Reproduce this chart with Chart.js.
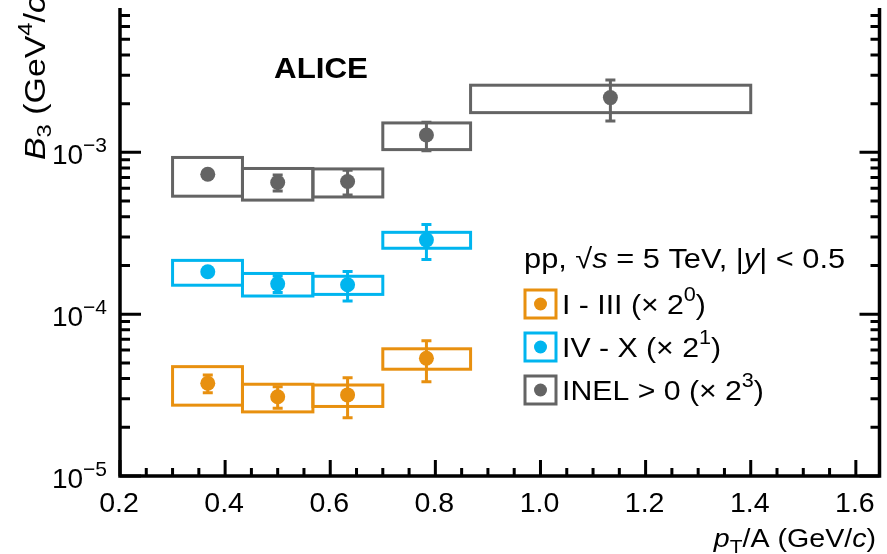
<!DOCTYPE html>
<html lang="en">
<head>
    <meta charset="UTF-8">
    <title>B3 vs pT/A</title>
    <script src="https://cdn.jsdelivr.net/npm/chart.js"></script>
    <style>
        body {
            margin: 0;
            padding: 0;
            background-color: #fff;
        }
        #wrap {
            width: 887px;
            height: 554px;
        }
    </style>
</head>
<body>
    <div id="wrap"><canvas id="b3Chart"></canvas></div>

    <script>
        // pT/A bins (GeV/c)
        const binCenter = [0.367, 0.5, 0.633, 0.783, 1.133];
        const binLow = [0.3, 0.433, 0.567, 0.7, 0.867];
        const binHigh = [0.433, 0.567, 0.7, 0.867, 1.4];

        // I - III (x 2^0)
        const multLow = [3.74e-5, 3.09e-5, 3.17e-5, 5.34e-5];
        const multLowStat = [0.47e-5, 0.47e-5, 0.88e-5, 1.52e-5];
        const multLowSys = [1.0e-5, 0.6e-5, 0.48e-5, 0.77e-5];

        // IV - X (x 2^1)
        const multHigh = [1.83e-4, 1.54e-4, 1.52e-4, 2.88e-4];
        const multHighStat = [0.1e-4, 0.18e-4, 0.315e-4, 0.70e-4];
        const multHighSys = [0.32e-4, 0.245e-4, 0.195e-4, 0.325e-4];

        // INEL > 0 (x 2^3)
        const inel = [7.33e-4, 6.51e-4, 6.60e-4, 1.28e-3, 2.18e-3];
        const inelStat = [0.04e-3, 0.073e-3, 0.114e-3, 0.257e-3, 0.62e-3];
        const inelSys = [0.197e-3, 0.144e-3, 0.13e-3, 0.24e-3, 0.42e-3];

        const xTickLabels = ['0.2', '0.4', '0.6', '0.8', '1.0', '1.2', '1.4', '1.6'];
        const yDecades = [-5, -4, -3];

        const FONT = '"Liberation Sans", Arial, sans-serif';
        const ORANGE = '#e8900f';
        const CYAN = '#00b5ef';
        const GREY = '#646464';

        const series = [
            { name: 'I - III', exp: '0', values: multLow, stat: multLowStat, sys: multLowSys, color: ORANGE },
            { name: 'IV - X', exp: '1', values: multHigh, stat: multHighStat, sys: multHighSys, color: CYAN },
            { name: 'INEL > 0', exp: '3', values: inel, stat: inelStat, sys: inelSys, color: GREY }
        ];

        // draw a row of text pieces (sub/superscripts, italics) with a small horizontal stretch
        function drawRuns(ctx, x, y, parts, align, sx) {
            sx = sx || 1;
            let total = 0;
            parts.forEach(p => {
                ctx.font = p.font;
                p.w = ctx.measureText(p.t).width * sx + (p.gap || 0);
                total += p.w;
            });
            let cx = align === 'right' ? x - total : (align === 'center' ? x - total / 2 : x);
            parts.forEach(p => {
                ctx.save();
                ctx.font = p.font;
                ctx.textAlign = 'left';
                ctx.textBaseline = 'alphabetic';
                ctx.translate(cx, y + (p.dy || 0));
                ctx.scale(sx, 1);
                ctx.fillText(p.t, 0, 0);
                ctx.restore();
                cx += p.w;
            });
        }

        // systematic boxes and statistical error bars
        const errorPlugin = {
            id: 'errors',
            beforeDatasetsDraw(chart) {
                const ctx = chart.ctx;
                const xs = chart.scales.x, ys = chart.scales.y;
                ctx.save();
                ctx.lineWidth = 3;
                series.forEach(s => {
                    ctx.strokeStyle = s.color;
                    s.values.forEach((v, i) => {
                        const x0 = xs.getPixelForValue(binLow[i]);
                        const x1 = xs.getPixelForValue(binHigh[i]);
                        const yTop = ys.getPixelForValue(v + s.sys[i]);
                        const yBot = ys.getPixelForValue(v - s.sys[i]);
                        ctx.strokeRect(x0, yTop, x1 - x0, yBot - yTop);

                        const xc = xs.getPixelForValue(binCenter[i]);
                        const e0 = ys.getPixelForValue(v + s.stat[i]);
                        const e1 = ys.getPixelForValue(v - s.stat[i]);
                        ctx.beginPath();
                        ctx.moveTo(xc, e0);
                        ctx.lineTo(xc, e1);
                        ctx.moveTo(xc - 5, e0);
                        ctx.lineTo(xc + 5, e0);
                        ctx.moveTo(xc - 5, e1);
                        ctx.lineTo(xc + 5, e1);
                        ctx.stroke();
                    });
                });
                ctx.restore();
            }
        };

        // frame, inward ticks, labels, titles and legend
        const framePlugin = {
            id: 'frame',
            afterDraw(chart) {
                const ctx = chart.ctx;
                const area = chart.chartArea;
                const xs = chart.scales.x, ys = chart.scales.y;
                ctx.save();
                ctx.strokeStyle = '#000';
                ctx.fillStyle = '#000';

                ctx.lineWidth = 3.5;
                ctx.beginPath();
                ctx.moveTo(area.left, area.top);
                ctx.lineTo(area.left, area.bottom);
                ctx.lineTo(area.right, area.bottom);
                ctx.lineTo(area.right, area.top);
                ctx.stroke();

                // x ticks every 0.05, labelled every 0.2
                ctx.lineWidth = 3;
                ctx.beginPath();
                for (let i = 0; i <= 28; i++) {
                    const px = xs.getPixelForValue(0.2 + i * 0.05);
                    const len = i % 4 === 0 ? 16 : 8;
                    ctx.moveTo(px, area.bottom);
                    ctx.lineTo(px, area.bottom - len);
                }
                ctx.stroke();
                xTickLabels.forEach(t => {
                    drawRuns(ctx, xs.getPixelForValue(parseFloat(t)) - 1, 512,
                        [{ t: t, font: '28px ' + FONT }], 'center', 1.02);
                });

                // log y ticks, both sides
                ctx.beginPath();
                yDecades.forEach(d => {
                    for (let m = 1; m <= 9; m++) {
                        const v = m * Math.pow(10, d);
                        if (v > ys.max) continue;
                        const py = ys.getPixelForValue(v);
                        const lenL = m === 1 ? 21 : 10;
                        const lenR = m === 1 ? 20 : 9;
                        ctx.moveTo(area.left, py);
                        ctx.lineTo(area.left + lenL, py);
                        ctx.moveTo(area.right, py);
                        ctx.lineTo(area.right - lenR, py);
                    }
                });
                ctx.stroke();
                yDecades.forEach(d => {
                    const py = ys.getPixelForValue(Math.pow(10, d));
                    drawRuns(ctx, 107, py + 12, [
                        { t: '10', font: '28px ' + FONT },
                        { t: '\u2212' + Math.abs(d), font: '21px ' + FONT, dy: -12 }
                    ], 'right');
                });

                // axis titles
                drawRuns(ctx, 876, 547, [
                    { t: 'p', font: 'italic 26px ' + FONT },
                    { t: 'T', font: '19px ' + FONT, dy: 6 },
                    { t: '/A (GeV/', font: '26px ' + FONT },
                    { t: 'c', font: 'italic 26px ' + FONT },
                    { t: ')', font: '26px ' + FONT }
                ], 'right', 1.1);

                ctx.save();
                ctx.translate(45, 160);
                ctx.rotate(-Math.PI / 2);
                drawRuns(ctx, 0, 0, [
                    { t: 'B', font: 'italic 30px ' + FONT },
                    { t: '3', font: '21px ' + FONT, dy: 6 },
                    { t: ' (GeV', font: '30px ' + FONT },
                    { t: '4', font: '21px ' + FONT, dy: -13 },
                    { t: '/', font: '30px ' + FONT },
                    { t: 'c', font: 'italic 30px ' + FONT },
                    { t: '3', font: '21px ' + FONT, dy: -13 },
                    { t: ')', font: '30px ' + FONT }
                ], 'left', 1.13);
                ctx.restore();

                drawRuns(ctx, 321, 78, [{ t: 'ALICE', font: 'bold 29px ' + FONT }], 'center', 1.08);

                // legend
                drawRuns(ctx, 524, 268, [
                    { t: 'pp, ', font: '28px ' + FONT },
                    { t: '\u221A', font: '28px ' + FONT },
                    { t: 's', font: 'italic 28px ' + FONT },
                    { t: ' = 5 TeV, ', font: '28px ' + FONT },
                    { t: '|', font: '28px ' + FONT },
                    { t: 'y', font: 'italic 28px ' + FONT },
                    { t: '| < 0.5', font: '28px ' + FONT }
                ], 'left', 1.1);

                series.forEach((s, k) => {
                    const cy = 304 + k * 43;
                    ctx.lineWidth = 3;
                    ctx.strokeStyle = s.color;
                    ctx.strokeRect(525, cy - 14, 31, 28);
                    ctx.fillStyle = s.color;
                    ctx.beginPath();
                    ctx.arc(540.5, cy, 6.5, 0, Math.PI * 2);
                    ctx.fill();
                    ctx.fillStyle = '#000';
                    drawRuns(ctx, 562, cy + 10, [
                        { t: s.name + ' (\u00D7 2', font: '28px ' + FONT },
                        { t: s.exp, font: '20px ' + FONT, dy: -13 },
                        { t: ')', font: '28px ' + FONT }
                    ], 'left', 1.08);
                });
                ctx.restore();
            }
        };

        const ctxB3 = document.getElementById('b3Chart').getContext('2d');
        const b3Chart = new Chart(ctxB3, {
            type: 'scatter',
            data: {
                datasets: series.map(s => ({
                    label: s.name,
                    data: s.values.map((v, i) => ({ x: binCenter[i], y: v })),
                    backgroundColor: s.color,
                    borderColor: s.color,
                    borderWidth: 0,
                    pointRadius: 7.5,
                    pointHoverRadius: 7.5
                }))
            },
            options: {
                responsive: true,
                maintainAspectRatio: false,
                animation: false,
                layout: {
                    padding: { left: 120, right: 5, top: 8, bottom: 78 }
                },
                plugins: {
                    legend: { display: false },
                    tooltip: { enabled: false }
                },
                scales: {
                    x: { type: 'linear', min: 0.2, max: 1.645, display: false },
                    y: { type: 'logarithmic', min: 1e-5, max: 7.8e-3, display: false }
                }
            },
            plugins: [errorPlugin, framePlugin]
        });
    </script>
</body>
</html>
